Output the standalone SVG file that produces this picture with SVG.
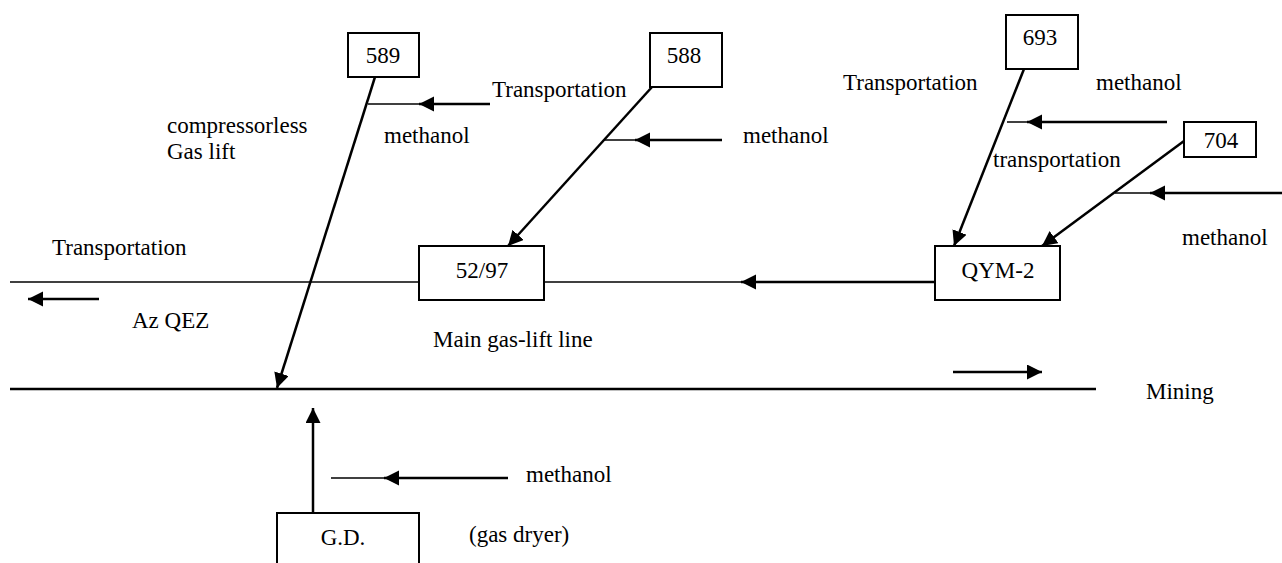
<svg xmlns="http://www.w3.org/2000/svg" width="1282" height="563" viewBox="0 0 1282 563">
<style>
.t{font-family:"Liberation Serif","Times New Roman",serif;font-size:23px;fill:#000}
.c{text-anchor:middle}
.box{fill:#fff;stroke:#000;stroke-width:2}
.thin{stroke:#000;stroke-width:1.5;fill:none}
.thick{stroke:#000;stroke-width:2.5;fill:none}
.arr{stroke:#000;stroke-width:2.5;fill:none;marker-end:url(#ah)}
</style>
<defs>
<marker id="ah" markerUnits="userSpaceOnUse" markerWidth="16" markerHeight="16" viewBox="0 0 16 16" refX="15" refY="7.5" orient="auto">
<path d="M0,0 L15,7.5 L0,15 z" fill="#000"/>
</marker>
</defs>
<rect width="1282" height="563" fill="#fff"/>
<g id="connectors">
<!-- main gas-lift line -->
<line class="thin" x1="10" y1="282" x2="419" y2="282"/>
<line class="thin" x1="544" y1="282" x2="745" y2="282"/>
<line class="arr" x1="935" y1="282" x2="741" y2="282"/>
<!-- mining line -->
<line class="thick" x1="10" y1="389" x2="1096" y2="389"/>
<line class="arr" x1="953" y1="372" x2="1042" y2="372"/>
<line class="arr" x1="99" y1="299" x2="28" y2="299"/>
<!-- 589 -->
<line class="arr" x1="375" y1="77" x2="277" y2="388"/>
<line class="thin" x1="368" y1="104" x2="423" y2="104"/>
<line class="arr" x1="490" y1="104" x2="419" y2="104"/>
<!-- 588 -->
<line class="arr" x1="652" y1="87" x2="508" y2="246"/>
<line class="thin" x1="604" y1="140" x2="639" y2="140"/>
<line class="arr" x1="722" y1="140" x2="635" y2="140"/>
<!-- 693 -->
<line class="arr" x1="1024" y1="69" x2="954" y2="246"/>
<line class="thin" x1="1007" y1="122" x2="1031" y2="122"/>
<line class="arr" x1="1167" y1="122" x2="1027" y2="122"/>
<!-- 704 -->
<line class="arr" x1="1184" y1="141" x2="1042" y2="246"/>
<line class="thin" x1="1115" y1="193" x2="1154" y2="193"/>
<line class="arr" x1="1282" y1="193" x2="1150" y2="193"/>
<!-- G.D. -->
<line class="arr" x1="313" y1="513" x2="313" y2="408"/>
<line class="thin" x1="331" y1="478" x2="388" y2="478"/>
<line class="arr" x1="508" y1="478" x2="384" y2="478"/>
</g>
<g id="n589"><rect class="box" x="348" y="33" width="71" height="44"/><text class="t c" x="383" y="63">589</text></g>
<g id="n588"><rect class="box" x="650" y="33" width="72" height="54"/><text class="t c" x="684" y="63">588</text></g>
<g id="n693"><rect class="box" x="1006" y="15" width="72" height="54"/><text class="t c" x="1040" y="45">693</text></g>
<g id="n704"><rect class="box" x="1184" y="122" width="72" height="35"/><text class="t c" x="1221" y="148">704</text></g>
<g id="n5297"><rect class="box" x="419" y="246" width="125" height="54"/><text class="t c" x="482" y="278">52/97</text></g>
<g id="nQYM2"><rect class="box" x="935" y="246" width="125" height="54"/><text class="t c" x="998" y="278">QYM-2</text></g>
<g id="nGD"><rect class="box" x="277" y="513" width="142" height="60"/><text class="t c" x="343" y="545">G.D.</text></g>
<g id="labels">
<text class="t" x="167" y="133">compressorless</text>
<text class="t" x="167" y="159">Gas lift</text>
<text class="t" x="384" y="143">methanol</text>
<text class="t" x="492" y="97">Transportation</text>
<text class="t" x="743" y="143">methanol</text>
<text class="t" x="843" y="90">Transportation</text>
<text class="t" x="1096" y="90">methanol</text>
<text class="t" x="993" y="167">transportation</text>
<text class="t" x="1182" y="245">methanol</text>
<text class="t" x="52" y="255">Transportation</text>
<text class="t" x="132" y="328">Az QEZ</text>
<text class="t" x="433" y="347">Main gas-lift line</text>
<text class="t" x="1146" y="399">Mining</text>
<text class="t" x="526" y="482">methanol</text>
<text class="t" x="469" y="542">(gas dryer)</text>
</g>
</svg>
